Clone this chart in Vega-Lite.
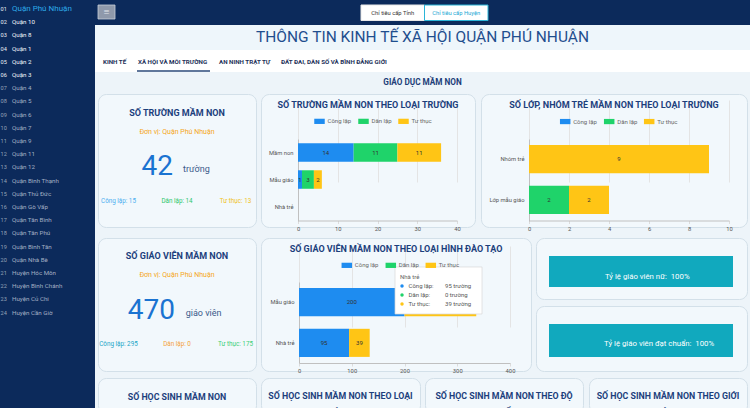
{
  "$schema": "https://vega.github.io/schema/vega-lite/v6.json",
  "padding": 0,
  "background": "#edf4f9",
  "config": {"view": {"stroke": null}, "font": "Roboto", "legend": {"padding": 0}},
  "datasets": {
    "gv_dao_tao": [
      {"dao_tao": "Mẫu giáo", "loai": "Công lập", "so": 200},
      {"dao_tao": "Mẫu giáo", "loai": "Dân lập", "so": 0},
      {"dao_tao": "Mẫu giáo", "loai": "Tư thục", "so": 136},
      {"dao_tao": "Nhà trẻ", "loai": "Công lập", "so": 95},
      {"dao_tao": "Nhà trẻ", "loai": "Dân lập", "so": 0},
      {"dao_tao": "Nhà trẻ", "loai": "Tư thục", "so": 39}
    ]
  },
  "spacing": 0,
  "bounds": "full",
  "resolve": {"scale": {"color": "independent"}, "legend": {"color": "independent"}},
  "hconcat": [
    {
      "width": 95, "height": 408,
      "view": {"fill": "#0c2a5b", "stroke": null},
      "data": {"values": [
        {"stt": "01", "ten": "Quận Phú Nhuận"}, {"stt": "02", "ten": "Quận 10"}, {"stt": "03", "ten": "Quận 8"},
        {"stt": "04", "ten": "Quận 1"}, {"stt": "05", "ten": "Quận 2"}, {"stt": "06", "ten": "Quận 3"},
        {"stt": "07", "ten": "Quận 4"}, {"stt": "08", "ten": "Quận 5"}, {"stt": "09", "ten": "Quận 6"},
        {"stt": "10", "ten": "Quận 7"}, {"stt": "11", "ten": "Quận 9"}, {"stt": "12", "ten": "Quận 11"},
        {"stt": "13", "ten": "Quận 12"}, {"stt": "14", "ten": "Quận Bình Thạnh"}, {"stt": "15", "ten": "Quận Thủ Đức"},
        {"stt": "16", "ten": "Quận Gò Vấp"}, {"stt": "17", "ten": "Quận Tân Bình"}, {"stt": "18", "ten": "Quận Tân Phú"},
        {"stt": "19", "ten": "Quận Bình Tân"}, {"stt": "20", "ten": "Quận Nhà Bè"}, {"stt": "21", "ten": "Huyện Hóc Môn"},
        {"stt": "22", "ten": "Huyện Bình Chánh"}, {"stt": "23", "ten": "Huyện Củ Chi"}, {"stt": "24", "ten": "Huyện Cần Giờ"}
      ]},
      "encoding": {
        "y": {"field": "stt", "type": "ordinal", "axis": null, "scale": {"type": "point", "range": [9, 312.6], "padding": 0}},
        "x": {"datum": 0, "type": "quantitative", "axis": null, "scale": {"domain": [0, 95], "range": [0, 95]}}
      },
      "layer": [
        {"mark": {"type": "text", "align": "left", "dx": 0.5, "fontSize": 5.6},
         "encoding": {"text": {"field": "stt"}, "color": {"condition": {"test": "toNumber(datum.stt) <= 6", "value": "#e9eef6"}, "value": "#95a2b8"}}},
        {"mark": {"type": "text", "align": "left", "dx": 12, "clip": true},
         "encoding": {
           "text": {"field": "ten"},
           "color": {"condition": [{"test": "datum.stt === '01'", "value": "#2da9e8"}, {"test": "toNumber(datum.stt) <= 6", "value": "#f2f5fa"}], "value": "#a3afc3"},
           "size": {"condition": {"test": "datum.stt === '01'", "value": 8}, "value": 6.2}
         }}
      ]
    },
    {
      "spacing": 0,
      "bounds": "full",
      "resolve": {"scale": {"color": "independent"}, "legend": {"color": "independent"}},
      "vconcat": [
        {
          "width": 655, "height": 25,
          "view": {"fill": "#0c2a5b", "stroke": null},
          "layer": [
            {
              "data": {"values": [{"nut": "menu"}]},
              "encoding": {
                "x": {"field": "nut", "type": "nominal", "axis": null, "scale": {"range": [3, 20], "paddingInner": 0, "paddingOuter": 0}},
                "y": {"field": "nut", "type": "nominal", "axis": null, "scale": {"range": [5, 19], "paddingInner": 0, "paddingOuter": 0}}
              },
              "layer": [
                {"mark": {"type": "rect", "fill": "#8f99ab", "stroke": "#c8cfd9", "strokeWidth": 0.8}},
                {"mark": {"type": "text", "text": "≡", "fontSize": 10, "color": "#e4e8ee"}}
              ]
            },
            {
              "data": {"values": [{"nut": "Chỉ tiêu cấp Tỉnh", "chon": false}, {"nut": "Chỉ tiêu cấp Huyện", "chon": true}]},
              "encoding": {
                "x": {"field": "nut", "type": "nominal", "sort": null, "axis": null, "scale": {"range": [266, 393], "paddingInner": 0, "paddingOuter": 0}}
              },
              "layer": [
                {"mark": {"type": "rect", "fill": "#ffffff", "strokeWidth": 1},
                 "encoding": {
                   "y": {"datum": "nút", "type": "nominal", "axis": null, "scale": {"range": [5, 20.5], "paddingInner": 0, "paddingOuter": 0}},
                   "stroke": {"condition": {"test": "datum.chon", "value": "#2bb5d8"}, "value": "#e8e8e8"}
                 }},
                {"mark": {"type": "text", "fontSize": 5.8},
                 "encoding": {"text": {"field": "nut"}, "color": {"condition": {"test": "datum.chon", "value": "#22a8d4"}, "value": "#333333"}}}
              ]
            }
          ],
          "resolve": {"scale": {"x": "independent", "y": "independent"}}
        },
        {
          "width": 655, "height": 25,
          "view": {"fill": "#eef6fb", "stroke": null},
          "data": {"values": [{"tieu_de": "THÔNG TIN KINH TẾ XÃ HỘI QUẬN PHÚ NHUẬN"}]},
          "mark": {"type": "text", "fontSize": 15.5, "color": "#1f4e8e", "dy": -0.5},
          "encoding": {"text": {"field": "tieu_de"}}
        },
        {
          "width": 655, "height": 22,
          "view": {"fill": "#ffffff", "stroke": null},
          "data": {"values": [{}]},
          "layer": [
            {"mark": {"type": "text", "text": "KINH TẾ", "align": "left", "fontSize": 6.2, "fontWeight": "bold", "color": "#1c2f58", "dy": 1},
             "encoding": {"x": {"datum": 8, "type": "quantitative", "axis": null, "scale": {"domain": [0, 655], "range": [0, 655]}}}},
            {"mark": {"type": "text", "text": "XÃ HỘI VÀ MÔI TRƯỜNG", "align": "left", "fontSize": 6.2, "fontWeight": "bold", "color": "#1c2f58", "dy": 1},
             "encoding": {"x": {"datum": 43, "type": "quantitative", "axis": null, "scale": {"domain": [0, 655], "range": [0, 655]}}}},
            {"mark": {"type": "text", "text": "AN NINH TRẬT TỰ", "align": "left", "fontSize": 6.2, "fontWeight": "bold", "color": "#1c2f58", "dy": 1},
             "encoding": {"x": {"datum": 124, "type": "quantitative", "axis": null, "scale": {"domain": [0, 655], "range": [0, 655]}}}},
            {"mark": {"type": "text", "text": "ĐẤT ĐAI, DÂN SỐ VÀ BÌNH ĐẲNG GIỚI", "align": "left", "fontSize": 6.2, "fontWeight": "bold", "color": "#1c2f58", "dy": 1},
             "encoding": {"x": {"datum": 186, "type": "quantitative", "axis": null, "scale": {"domain": [0, 655], "range": [0, 655]}}}},
            {"mark": {"type": "rule", "color": "#2b4a7a", "strokeWidth": 1.5},
             "encoding": {
               "x": {"datum": 42, "type": "quantitative", "axis": null, "scale": {"domain": [0, 655], "range": [0, 655]}},
               "x2": {"datum": 115},
               "y": {"datum": 21, "type": "quantitative", "axis": null, "scale": {"domain": [0, 22], "range": [0, 22]}}
             }}
          ]
        },
        {
          "width": 655, "height": 21,
          "data": {"values": [{"muc": "GIÁO DỤC MẦM NON"}]},
          "mark": {"type": "text", "fontSize": 8.2, "fontWeight": "bold", "color": "#1c3d78", "dy": 0.5},
          "encoding": {"text": {"field": "muc"}}
        },
        {
          "spacing": 0,
          "bounds": "full",
          "resolve": {"scale": {"color": "independent"}, "legend": {"color": "independent"}},
          "hconcat": [
            {"width": 2, "height": 10, "data": {"values": []}, "mark": "point"},
            {
              "width": 158, "height": 133,
              "view": {"fill": "#f2f8fc", "stroke": "#d3e0e9", "strokeWidth": 1, "cornerRadius": 8},
              "data": {"values": [{"loai": "Công lập", "so": 15}, {"loai": "Dân lập", "so": 14}, {"loai": "Tư thục", "so": 13}]},
              "layer": [
                {"data": {"values": [{}]}, "mark": {"type": "text", "text": "SỐ TRƯỜNG MẦM NON", "fontSize": 9, "fontWeight": "bold", "color": "#1c3f7c", "dy": -47.5}, "encoding": {}},
                {"data": {"values": [{}]}, "mark": {"type": "text", "text": "Đơn vị: Quận Phú Nhuận", "fontSize": 7, "color": "#f5a623", "dy": -28.5}, "encoding": {}},
                {"transform": [{"aggregate": [{"op": "sum", "field": "so", "as": "tong"}]}],
                 "mark": {"type": "text", "fontSize": 28, "color": "#1a73d1", "align": "right", "dx": -4, "dy": 6.5},
                 "encoding": {"text": {"field": "tong", "type": "quantitative"}}},
                {"data": {"values": [{}]}, "mark": {"type": "text", "text": "trường", "fontSize": 9, "color": "#3b5a8a", "align": "left", "baseline": "alphabetic", "dx": 6, "dy": 11.5}, "encoding": {}},
                {"mark": {"type": "text", "fontSize": 6.3, "dy": 40, "text": {"expr": "datum.loai + ': ' + datum.so"}},
                 "encoding": {
                   "x": {"field": "loai", "type": "nominal", "axis": null, "scale": {"type": "point", "padding": 0.35}},
                   "color": {"field": "loai", "type": "nominal", "legend": null, "scale": {"domain": ["Công lập", "Dân lập", "Tư thục"], "range": ["#4aaef0", "#2cc76b", "#f0c21b"]}}
                 }}
              ]
            },
            {"width": 3, "height": 10, "data": {"values": []}, "mark": "point"},
            {
              "width": 214, "height": 133,
              "view": {"fill": "#f2f8fc", "stroke": "#d3e0e9", "strokeWidth": 1, "cornerRadius": 8},
              "layer": [
                {
                  "data": {"values": [
                    {"loai_truong": "Mầm non", "loai": "Công lập", "so": 14},
                    {"loai_truong": "Mầm non", "loai": "Dân lập", "so": 11},
                    {"loai_truong": "Mầm non", "loai": "Tư thục", "so": 11},
                    {"loai_truong": "Mẫu giáo", "loai": "Công lập", "so": 1},
                    {"loai_truong": "Mẫu giáo", "loai": "Dân lập", "so": 3},
                    {"loai_truong": "Mẫu giáo", "loai": "Tư thục", "so": 2},
                    {"loai_truong": "Nhà trẻ", "loai": "Công lập", "so": 0},
                    {"loai_truong": "Nhà trẻ", "loai": "Dân lập", "so": 0},
                    {"loai_truong": "Nhà trẻ", "loai": "Tư thục", "so": 0}
                  ]},
                  "layer": [
                    {"mark": {"type": "bar"},
                     "encoding": {
                       "y": {"field": "loai_truong", "type": "nominal", "sort": ["Mầm non", "Mẫu giáo", "Nhà trẻ"],
                             "scale": {"range": [45, 127], "paddingInner": 0.315, "paddingOuter": 0.176, "align": 0.45},
                             "axis": {"title": null, "offset": -37, "ticks": false, "labelPadding": 5, "labelFontSize": 5.8, "labelColor": "#555555", "domainColor": "#c0c0c0", "grid": false}},
                       "x": {"field": "so", "type": "quantitative", "stack": "zero",
                             "scale": {"domain": [0, 40], "range": [37, 196], "nice": false},
                             "axis": {"title": null, "offset": -6.5, "values": [0, 10, 20, 30, 40], "labelFlush": false, "grid": true, "gridColor": "#e4e4e4", "domainColor": "#c0c0c0", "tickColor": "#dcdcdc", "tickSize": 3, "labelFontSize": 5.8, "labelColor": "#555555", "labelPadding": 1.5}},
                       "color": {"field": "loai", "type": "nominal",
                                 "scale": {"domain": ["Công lập", "Dân lập", "Tư thục"], "range": ["#1e8cf0", "#1fd36a", "#ffc515"]},
                                 "legend": {"orient": "none", "legendX": 53, "legendY": 21.6, "direction": "horizontal", "title": null, "symbolType": "M-1,-0.5H1V0.5H-1Z", "symbolSize": 110, "symbolStrokeWidth": 0, "labelFontSize": 6, "labelColor": "#666666", "labelOffset": 2.5, "columnPadding": 6}},
                       "order": {"field": "loai", "sort": "ascending"}
                     }},
                    {"transform": [{"filter": "datum.so > 0"}],
                     "mark": {"type": "text", "fontSize": 6, "color": "#333333"},
                     "encoding": {
                       "y": {"field": "loai_truong", "type": "nominal", "sort": ["Mầm non", "Mẫu giáo", "Nhà trẻ"]},
                       "x": {"field": "so", "type": "quantitative", "stack": "zero", "bandPosition": 0.5},
                       "detail": {"field": "loai"},
                       "order": {"field": "loai", "sort": "ascending"},
                       "text": {"field": "so", "type": "quantitative"}
                     }}
                  ]
                },
                {"data": {"values": [{}]}, "mark": {"type": "text", "text": "SỐ TRƯỜNG MẦM NON THEO LOẠI TRƯỜNG", "fontSize": 9, "fontWeight": "bold", "color": "#1c3f7c", "dy": -55.5}, "encoding": {}}
              ]
            },
            {"width": 4, "height": 10, "data": {"values": []}, "mark": "point"},
            {
              "width": 266, "height": 133,
              "view": {"fill": "#f2f8fc", "stroke": "#d3e0e9", "strokeWidth": 1, "cornerRadius": 8},
              "layer": [
                {
                  "data": {"values": [
                    {"loai_lop": "Nhóm trẻ", "loai": "Công lập", "so": 0},
                    {"loai_lop": "Nhóm trẻ", "loai": "Dân lập", "so": 0},
                    {"loai_lop": "Nhóm trẻ", "loai": "Tư thục", "so": 9},
                    {"loai_lop": "Lớp mẫu giáo", "loai": "Công lập", "so": 0},
                    {"loai_lop": "Lớp mẫu giáo", "loai": "Dân lập", "so": 2},
                    {"loai_lop": "Lớp mẫu giáo", "loai": "Tư thục", "so": 2}
                  ]},
                  "layer": [
                    {"mark": {"type": "bar"},
                     "encoding": {
                       "y": {"field": "loai_lop", "type": "nominal", "sort": ["Nhóm trẻ", "Lớp mẫu giáo"],
                             "scale": {"range": [45, 127], "paddingInner": 0.305, "paddingOuter": 0.16, "align": 0.46},
                             "axis": {"title": null, "offset": -48, "ticks": false, "labelPadding": 5, "labelFontSize": 5.8, "labelColor": "#555555", "domainColor": "#c0c0c0", "grid": false}},
                       "x": {"field": "so", "type": "quantitative", "stack": "zero",
                             "scale": {"domain": [0, 10], "range": [48, 248], "nice": false},
                             "axis": {"title": null, "offset": -6.5, "values": [0, 2, 4, 6, 8, 10], "labelFlush": false, "grid": true, "gridColor": "#e4e4e4", "domainColor": "#c0c0c0", "tickColor": "#dcdcdc", "tickSize": 3, "labelFontSize": 5.8, "labelColor": "#555555", "labelPadding": 1.5}},
                       "color": {"field": "loai", "type": "nominal",
                                 "scale": {"domain": ["Công lập", "Dân lập", "Tư thục"], "range": ["#1e8cf0", "#1fd36a", "#ffc515"]},
                                 "legend": {"orient": "none", "legendX": 78.7, "legendY": 21.8, "direction": "horizontal", "title": null, "symbolType": "M-1,-0.5H1V0.5H-1Z", "symbolSize": 110, "symbolStrokeWidth": 0, "labelFontSize": 6, "labelColor": "#666666", "labelOffset": 2.5, "columnPadding": 6}},
                       "order": {"field": "loai", "sort": "ascending"}
                     }},
                    {"transform": [{"filter": "datum.so > 0"}],
                     "mark": {"type": "text", "fontSize": 6, "color": "#333333"},
                     "encoding": {
                       "y": {"field": "loai_lop", "type": "nominal", "sort": ["Nhóm trẻ", "Lớp mẫu giáo"]},
                       "x": {"field": "so", "type": "quantitative", "stack": "zero", "bandPosition": 0.5},
                       "detail": {"field": "loai"},
                       "order": {"field": "loai", "sort": "ascending"},
                       "text": {"field": "so", "type": "quantitative"}
                     }}
                  ]
                },
                {"data": {"values": [{}]}, "mark": {"type": "text", "text": "SỐ LỚP, NHÓM TRẺ MẦM NON THEO LOẠI TRƯỜNG", "fontSize": 9, "fontWeight": "bold", "color": "#1c3f7c", "dy": -55.5}, "encoding": {}}
              ]
            },
            {"width": 2, "height": 10, "data": {"values": []}, "mark": "point"}
          ]
        },
        {"width": 655, "height": 5, "data": {"values": []}, "mark": "point"},
        {
          "spacing": 0,
          "bounds": "full",
          "resolve": {"scale": {"color": "independent"}, "legend": {"color": "independent"}},
          "hconcat": [
            {"width": 2, "height": 10, "data": {"values": []}, "mark": "point"},
            {
              "width": 158, "height": 133,
              "view": {"fill": "#f2f8fc", "stroke": "#d3e0e9", "strokeWidth": 1, "cornerRadius": 8},
              "data": {"values": [{"loai": "Công lập", "so": 295}, {"loai": "Dân lập", "so": 0}, {"loai": "Tư thục", "so": 175}]},
              "layer": [
                {"data": {"values": [{}]}, "mark": {"type": "text", "text": "SỐ GIÁO VIÊN MẦM NON", "fontSize": 9, "fontWeight": "bold", "color": "#1c3f7c", "dy": -48.5}, "encoding": {}},
                {"data": {"values": [{}]}, "mark": {"type": "text", "text": "Đơn vị: Quận Phú Nhuận", "fontSize": 7, "color": "#f5a623", "dy": -29.5}, "encoding": {}},
                {"transform": [{"aggregate": [{"op": "sum", "field": "so", "as": "tong"}]}],
                 "mark": {"type": "text", "fontSize": 28, "color": "#1a73d1", "align": "right", "dx": -2, "dy": 6},
                 "encoding": {"text": {"field": "tong", "type": "quantitative"}}},
                {"data": {"values": [{}]}, "mark": {"type": "text", "text": "giáo viên", "fontSize": 9, "color": "#3b5a8a", "align": "left", "baseline": "alphabetic", "dx": 8.7, "dy": 11.2}, "encoding": {}},
                {"mark": {"type": "text", "fontSize": 6.3, "dy": 39, "text": {"expr": "datum.loai + ': ' + datum.so"}},
                 "encoding": {
                   "x": {"field": "loai", "type": "nominal", "axis": null, "scale": {"type": "point", "padding": 0.35}},
                   "color": {"field": "loai", "type": "nominal", "legend": null, "scale": {"domain": ["Công lập", "Dân lập", "Tư thục"], "range": ["#20a5c7", "#f4a23a", "#3ccf76"]}}
                 }}
              ]
            },
            {"width": 3, "height": 10, "data": {"values": []}, "mark": "point"},
            {
              "width": 270, "height": 133,
              "view": {"fill": "#f2f8fc", "stroke": "#d3e0e9", "strokeWidth": 1, "cornerRadius": 8},
              "layer": [
                {
                  "data": {"name": "gv_dao_tao"},
                  "layer": [
                    {"mark": {"type": "bar"},
                     "encoding": {
                       "y": {"field": "dao_tao", "type": "nominal", "sort": ["Mẫu giáo", "Nhà trẻ"],
                             "scale": {"range": [44, 125], "paddingInner": 0.31, "paddingOuter": 0.15, "align": 0.5},
                             "axis": {"title": null, "offset": -38, "ticks": false, "labelPadding": 5, "labelFontSize": 5.8, "labelColor": "#555555", "domainColor": "#c0c0c0", "grid": false}},
                       "x": {"field": "so", "type": "quantitative", "stack": "zero",
                             "scale": {"domain": [0, 400], "range": [38, 249], "nice": false},
                             "axis": {"title": null, "offset": -8, "values": [0, 100, 200, 300, 400], "labelFlush": false, "grid": true, "gridColor": "#e4e4e4", "domainColor": "#c0c0c0", "tickColor": "#dcdcdc", "tickSize": 3, "labelFontSize": 5.8, "labelColor": "#555555", "labelPadding": 1.5}},
                       "color": {"field": "loai", "type": "nominal",
                                 "scale": {"domain": ["Công lập", "Dân lập", "Tư thục"], "range": ["#1e8cf0", "#1fd36a", "#ffc515"]},
                                 "legend": {"orient": "none", "legendX": 80.3, "legendY": 21.6, "direction": "horizontal", "title": null, "symbolType": "M-1,-0.5H1V0.5H-1Z", "symbolSize": 110, "symbolStrokeWidth": 0, "labelFontSize": 6, "labelColor": "#666666", "labelOffset": 2.5, "columnPadding": 6}},
                       "order": {"field": "loai", "sort": "ascending"}
                     }},
                    {"transform": [{"filter": "datum.so > 0"}],
                     "mark": {"type": "text", "fontSize": 6, "color": "#333333"},
                     "encoding": {
                       "y": {"field": "dao_tao", "type": "nominal", "sort": ["Mẫu giáo", "Nhà trẻ"]},
                       "x": {"field": "so", "type": "quantitative", "stack": "zero", "bandPosition": 0.5},
                       "detail": {"field": "loai"},
                       "order": {"field": "loai", "sort": "ascending"},
                       "text": {"field": "so", "type": "quantitative"}
                     }}
                  ]
                },
                {"data": {"values": [{}]}, "mark": {"type": "text", "text": "SỐ GIÁO VIÊN MẦM NON THEO LOẠI HÌNH ĐÀO TẠO", "fontSize": 9, "fontWeight": "bold", "color": "#1c3f7c", "dy": -55.5}, "encoding": {}},
                {
                  "data": {"name": "gv_dao_tao"},
                  "transform": [{"filter": "datum.dao_tao === 'Nhà trẻ'"}],
                  "layer": [
                    {"transform": [{"aggregate": [{"op": "count", "as": "n"}], "groupby": ["dao_tao"]}],
                     "mark": {"type": "point", "shape": "M-1,-0.644H1V0.437H-1Z", "size": 7569, "filled": true, "fill": "#ffffff", "stroke": "#d8d8d8", "strokeWidth": 0.7, "opacity": 1},
                     "encoding": {
                       "x": {"datum": 264.5, "type": "quantitative"},
                       "y": {"datum": "Dân lập", "type": "nominal", "axis": null, "scale": {"type": "point", "domain": ["Nhà trẻ", "Công lập", "Dân lập", "Tư thục"], "range": [39, 66], "padding": 0}}
                     }},
                    {"transform": [{"aggregate": [{"op": "count", "as": "n"}], "groupby": ["dao_tao"]}],
                     "mark": {"type": "text", "align": "left", "fontSize": 6, "color": "#666666"},
                     "encoding": {
                       "x": {"datum": 191.5, "type": "quantitative"},
                       "y": {"field": "dao_tao", "type": "nominal", "axis": null},
                       "text": {"field": "dao_tao"}
                     }},
                    {"mark": {"type": "point", "filled": true, "size": 12, "opacity": 1},
                     "encoding": {
                       "x": {"datum": 195.3, "type": "quantitative"},
                       "y": {"field": "loai", "type": "nominal", "axis": null},
                       "color": {"condition": [{"test": "datum.loai === 'Công lập'", "value": "#1e8cf0"}, {"test": "datum.loai === 'Dân lập'", "value": "#1fd36a"}], "value": "#ffc515"}
                     }},
                    {"mark": {"type": "text", "align": "left", "fontSize": 6, "color": "#555555", "text": {"expr": "datum.loai + ':'"}},
                     "encoding": {
                       "x": {"datum": 207.6, "type": "quantitative"},
                       "y": {"field": "loai", "type": "nominal", "axis": null}
                     }},
                    {"mark": {"type": "text", "align": "left", "fontSize": 6, "color": "#555555", "text": {"expr": "datum.so + ' trường'"}},
                     "encoding": {
                       "x": {"datum": 276.8, "type": "quantitative"},
                       "y": {"field": "loai", "type": "nominal", "axis": null}
                     }}
                  ]
                }
              ],
              "resolve": {"scale": {"y": "independent"}}
            },
            {"width": 3, "height": 10, "data": {"values": []}, "mark": "point"},
            {
              "spacing": 0,
              "bounds": "full",
              "vconcat": [
                {
                  "width": 211, "height": 61,
                  "view": {"fill": "#f2f8fc", "stroke": "#d3e0e9", "strokeWidth": 1, "cornerRadius": 8},
                  "data": {"values": [{"chi_tieu": "Tỷ lệ giáo viên nữ", "ty_le": 100}]},
                  "encoding": {"y": {"field": "chi_tieu", "type": "nominal", "axis": null, "scale": {"range": [18, 49], "paddingInner": 0, "paddingOuter": 0}}},
                  "layer": [
                    {"mark": {"type": "bar", "color": "#11a9be"},
                     "encoding": {"x": {"field": "ty_le", "type": "quantitative", "axis": null, "scale": {"domain": [0, 100], "range": [13, 197], "nice": false}}}},
                    {"mark": {"type": "text", "align": "left", "color": "#ffffff", "fontSize": 7.8, "dy": 5.2, "text": {"expr": "datum.chi_tieu + ':\u00a0 ' + datum.ty_le + '%'"}},
                     "encoding": {"x": {"datum": 30.4, "type": "quantitative"}}}
                  ]
                },
                {"width": 211, "height": 5, "data": {"values": []}, "mark": "point"},
                {
                  "width": 211, "height": 65,
                  "view": {"fill": "#f2f8fc", "stroke": "#d3e0e9", "strokeWidth": 1, "cornerRadius": 8},
                  "data": {"values": [{"chi_tieu": "Tỷ lệ giáo viên đạt chuẩn", "ty_le": 100}]},
                  "encoding": {"y": {"field": "chi_tieu", "type": "nominal", "axis": null, "scale": {"range": [18, 51], "paddingInner": 0, "paddingOuter": 0}}},
                  "layer": [
                    {"mark": {"type": "bar", "color": "#11a9be"},
                     "encoding": {"x": {"field": "ty_le", "type": "quantitative", "axis": null, "scale": {"domain": [0, 100], "range": [13, 197], "nice": false}}}},
                    {"mark": {"type": "text", "align": "left", "color": "#ffffff", "fontSize": 7.8, "dy": 3.3, "text": {"expr": "datum.chi_tieu + ':\u00a0 ' + datum.ty_le + '%'"}},
                     "encoding": {"x": {"datum": 29.9, "type": "quantitative"}}}
                  ]
                }
              ]
            },
            {"width": 2, "height": 10, "data": {"values": []}, "mark": "point"}
          ]
        },
        {"width": 655, "height": 3, "data": {"values": []}, "mark": "point"},
        {
          "spacing": 0,
          "bounds": "full",
          "hconcat": [
            {"width": 2, "height": 10, "data": {"values": []}, "mark": "point"},
            {
              "width": 158, "height": 35,
              "view": {"fill": "#f2f8fc", "stroke": "#d3e0e9", "strokeWidth": 1, "cornerRadius": 8},
              "data": {"values": [{}]},
              "layer": [
                {"mark": {"type": "text", "text": "SỐ HỌC SINH MẦM NON", "fontSize": 8.8, "fontWeight": "bold", "color": "#1c3f7c", "dy": 1.5}, "encoding": {}},
                {"mark": {"type": "text", "text": "Đơn vị: Quận Phú Nhuận", "fontSize": 7, "color": "#f5a623", "dy": 16.5, "clip": true}, "encoding": {}}
              ]
            },
            {"width": 3, "height": 10, "data": {"values": []}, "mark": "point"},
            {
              "width": 159, "height": 35,
              "view": {"fill": "#f2f8fc", "stroke": "#d3e0e9", "strokeWidth": 1, "cornerRadius": 8},
              "data": {"values": [{}]},
              "mark": {"type": "text", "text": ["SỐ HỌC SINH MẦM NON THEO LOẠI", "HÌNH"], "lineHeight": 16, "fontSize": 8.8, "fontWeight": "bold", "color": "#1c3f7c", "dy": 0.5},
              "encoding": {}
            },
            {"width": 3, "height": 10, "data": {"values": []}, "mark": "point"},
            {
              "width": 158, "height": 35,
              "view": {"fill": "#f2f8fc", "stroke": "#d3e0e9", "strokeWidth": 1, "cornerRadius": 8},
              "data": {"values": [{}]},
              "mark": {"type": "text", "text": ["SỐ HỌC SINH MẦM NON THEO ĐỘ", "TUỔI"], "lineHeight": 16, "fontSize": 8.8, "fontWeight": "bold", "color": "#1c3f7c", "dy": 0.5},
              "encoding": {}
            },
            {"width": 4, "height": 10, "data": {"values": []}, "mark": "point"},
            {
              "width": 158, "height": 35,
              "view": {"fill": "#f2f8fc", "stroke": "#d3e0e9", "strokeWidth": 1, "cornerRadius": 8},
              "data": {"values": [{}]},
              "mark": {"type": "text", "text": ["SỐ HỌC SINH MẦM NON THEO GIỚI", "TÍNH"], "lineHeight": 16, "fontSize": 8.8, "fontWeight": "bold", "color": "#1c3f7c", "dy": 0.5},
              "encoding": {}
            },
            {"width": 2, "height": 10, "data": {"values": []}, "mark": "point"}
          ]
        }
      ]
    }
  ]
}
